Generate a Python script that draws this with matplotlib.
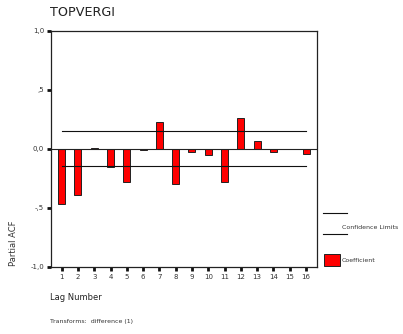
import matplotlib
matplotlib.use("Agg")
import matplotlib.pyplot as plt
from matplotlib.lines import Line2D
from matplotlib.patches import Rectangle

lags = list(range(1, 17))
pacf = [-0.47, -0.39, 0.01, -0.15, -0.28, -0.01, 0.23, -0.30,
        -0.025, -0.05, -0.28, 0.26, 0.07, -0.03, -0.005, -0.04]
conf_limit = 0.147
y_ticks = [-1.0, -0.5, 0.0, 0.5, 1.0]
y_tick_labels = ["-1,0", "-,5", "0,0", ",5", "1,0"]

W, H = 403, 334


def fx(px):
    return px / W


def fy(py):
    return 1 - py / H


fig = plt.figure(figsize=(4.03, 3.34), dpi=100)
ax = fig.add_axes([0.1266, 0.2006, 0.66, 0.7074])

ax.bar(lags, pacf, width=0.43, color="#ff0000", edgecolor="#222222", linewidth=0.7, zorder=2)
ax.axhline(0, color="#222222", linewidth=0.8, zorder=3)
ax.plot([lags[0], lags[-1]], [conf_limit, conf_limit], color="#111111", linewidth=0.8, zorder=3)
ax.plot([lags[0], lags[-1]], [-conf_limit, -conf_limit], color="#111111", linewidth=0.8, zorder=3)

ax.set_xlim(0.35, 16.67)
ax.set_ylim(-1, 1)
ax.set_xticks(lags)
ax.set_xticklabels([str(l) for l in lags])
ax.set_yticks(y_ticks)
ax.set_yticklabels(y_tick_labels)
ax.tick_params(axis="both", labelsize=5, length=3, width=2, color="#111111",
               labelcolor="#333333", pad=2)
for s in ax.spines.values():
    s.set_linewidth(0.9)
    s.set_color("#222222")

fig.text(fx(50), fy(12), "TOPVERGI", fontsize=9.2, color="#222222", va="center", ha="left")
fig.text(fx(14), fy(243), "Partial ACF", fontsize=6, rotation=90,
         color="#333333", va="center", ha="center")
fig.text(fx(50), fy(298), "Lag Number", fontsize=6, color="#222222", va="center", ha="left")
fig.text(fx(50), fy(321), "Transforms:  difference (1)", fontsize=4.5,
         color="#333333", va="center", ha="left")

# legend drawn in figure coordinates
for ly in (212.7, 234.3):
    fig.add_artist(Line2D([fx(323), fx(346.5)], [fy(ly), fy(ly)],
                          color="#111111", linewidth=0.8))
fig.text(fx(342), fy(227.5), "Confidence Limits", fontsize=4.5, color="#333333",
         va="center", ha="left")
fig.add_artist(Rectangle((fx(323.5), fy(266)), fx(340) - fx(323.5), fy(254.3) - fy(266),
                         facecolor="#ff0000", edgecolor="#222222", linewidth=0.7))
fig.text(fx(341.5), fy(261), "Coefficient", fontsize=4.5, color="#333333",
         va="center", ha="left")

fig.savefig("out.png", dpi=100)
